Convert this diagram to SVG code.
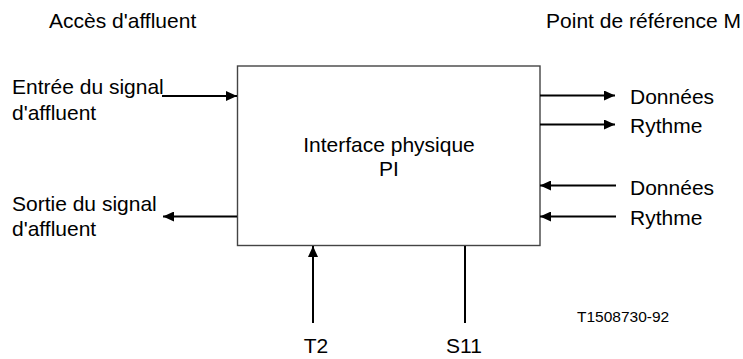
<svg xmlns="http://www.w3.org/2000/svg" width="743" height="359" viewBox="0 0 743 359">
<style>
text{font-family:"Liberation Sans",Arial,sans-serif;font-size:21px;fill:#000}
.small{font-size:15.5px}
.c{stroke:#000;stroke-width:2;fill:none}
.box{fill:#fff;stroke:#444;stroke-width:1.4}
</style>
<defs>
<marker id="ah" markerUnits="userSpaceOnUse" markerWidth="12" markerHeight="10" refX="11" refY="5" orient="auto">
<path d="M0,0 L11,5 L0,10 Z" fill="#000"/>
</marker>
</defs>
<rect width="743" height="359" fill="#fff"/>
<g id="labels">
<text x="49" y="28">Accès d'affluent</text>
<text x="741" y="28" text-anchor="end">Point de référence M</text>
<text x="577" y="322" class="small">T1508730-92</text>
</g>
<g id="pi">
<rect class="box" x="237.5" y="66" width="302.5" height="179.5"/>
<text x="389" y="152" text-anchor="middle">Interface physique</text>
<text x="389" y="176" text-anchor="middle">PI</text>
</g>
<g id="entree">
<text x="12" y="94">Entrée du signal</text>
<text x="12" y="120">d'affluent</text>
</g>
<g id="sortie">
<text x="12" y="211">Sortie du signal</text>
<text x="12" y="236">d'affluent</text>
</g>
<g id="out-donnees"><text x="630" y="104">Données</text></g>
<g id="out-rythme"><text x="630" y="133">Rythme</text></g>
<g id="in-donnees"><text x="630" y="195">Données</text></g>
<g id="in-rythme"><text x="630" y="225">Rythme</text></g>
<g id="t2"><text x="316" y="353" text-anchor="middle">T2</text></g>
<g id="s11"><text x="464" y="353" text-anchor="middle">S11</text></g>
<g id="connectors">
<line class="c" x1="162" y1="96" x2="237" y2="96" marker-end="url(#ah)"/>
<line class="c" x1="237" y1="216.5" x2="163" y2="216.5" marker-end="url(#ah)"/>
<line class="c" x1="540" y1="95.5" x2="615" y2="95.5" marker-end="url(#ah)"/>
<line class="c" x1="540" y1="124.5" x2="615" y2="124.5" marker-end="url(#ah)"/>
<line class="c" x1="616" y1="185.5" x2="540" y2="185.5" marker-end="url(#ah)"/>
<line class="c" x1="616" y1="216.5" x2="540" y2="216.5" marker-end="url(#ah)"/>
<line class="c" x1="313" y1="323" x2="313" y2="246" marker-end="url(#ah)"/>
<line class="c" x1="465" y1="246" x2="465" y2="323"/>
</g>
</svg>
